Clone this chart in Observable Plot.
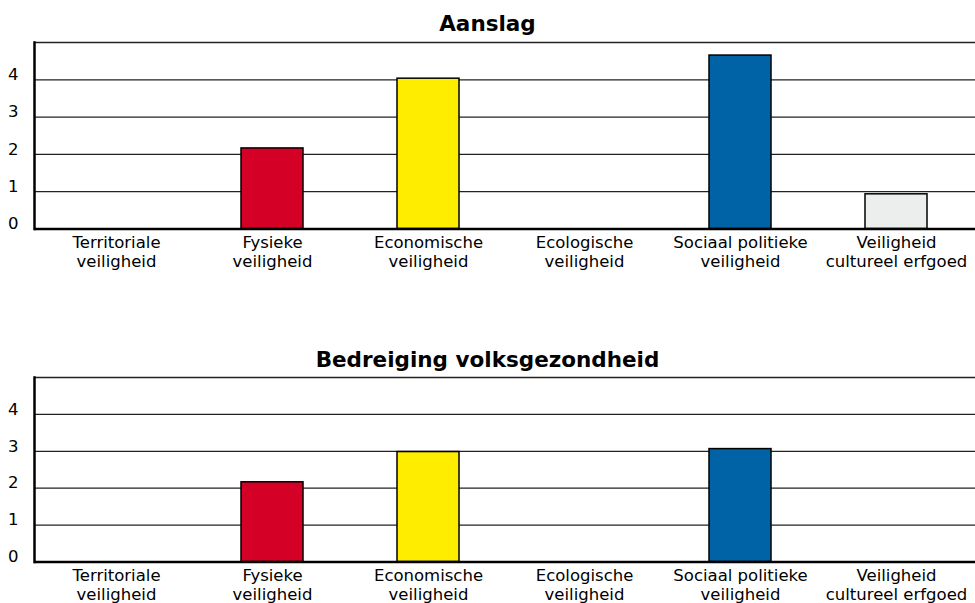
<!DOCTYPE html>
<html>
<head>
<meta charset="utf-8">
<script src="https://cdn.jsdelivr.net/npm/d3@7"></script>
<script src="https://cdn.jsdelivr.net/npm/@observablehq/plot@0.6"></script>
<style>
  html, body { margin: 0; padding: 0; background: #fff; }
  body { width: 975px; height: 603px; position: relative; overflow: hidden; font-family: "DejaVu Sans", Verdana, sans-serif; }
  .title { position: absolute; left: 0; width: 975px; text-align: center; font-weight: bold; font-size: 21.5px; line-height: 24px; color: #000; z-index: 2; }
  .panel { position: absolute; left: 0; z-index: 1; }
  .panel svg text { font-size: 16.5px; fill: #000; }
</style>
</head>
<body>
<div class="panel" id="p1" style="top:0px"></div>
<div class="panel" id="p2" style="top:335px"></div>
<div class="title" id="t1" style="top:12px"></div>
<div class="title" id="t2" style="top:348px"></div>
<script>
const categories = [
  "Territoriale veiligheid",
  "Fysieke veiligheid",
  "Economische veiligheid",
  "Ecologische veiligheid",
  "Sociaal politieke veiligheid",
  "Veiligheid cultureel erfgoed"
];
const tickLabels = [
  "Territoriale\nveiligheid",
  "Fysieke\nveiligheid",
  "Economische\nveiligheid",
  "Ecologische\nveiligheid",
  "Sociaal politieke\nveiligheid",
  "Veiligheid\ncultureel erfgoed"
];
const barColors = ["#ffffff", "#d50025", "#ffed00", "#ffffff", "#0063a6", "#eceeed"];
const titles = ["Aanslag", "Bedreiging volksgezondheid"];
const aanslag = [0, 2.16, 4.03, 0, 4.65, 0.93];
const bedreiging = [0, 2.16, 2.98, 0, 3.06, 0];
const yTicks = [0, 1, 2, 3, 4];
const gridValues = [1, 2, 3, 4, 5];

function panel(values, height, marginBottom) {
  const data = categories.map((c, i) => ({cat: c, value: values[i]})).filter(d => d.value > 0);
  return Plot.plot({
    width: 975,
    height,
    marginTop: 42,
    marginBottom,
    marginLeft: 34,
    marginRight: 0,
    style: {fontFamily: "DejaVu Sans, Verdana, sans-serif", fontSize: "16.5px", color: "#000", background: "transparent"},
    x: {type: "band", domain: categories, range: [37, 976], paddingInner: 0.6, paddingOuter: 0.3, label: null},
    y: {domain: [0, 5], label: null},
    color: {domain: categories, range: barColors},
    marks: [
      Plot.ruleY(gridValues, {stroke: "#222", strokeWidth: 1.3}),
      Plot.barY(data, {x: "cat", y: "value", fill: "cat", stroke: "#000", strokeWidth: 1.5}),
      Plot.ruleY([0], {stroke: "#000", strokeWidth: 2.5}),
      Plot.frame({anchor: "left", stroke: "#000", strokeWidth: 2.5}),
      Plot.axisY(yTicks, {tickSize: 0, tickPadding: 16, dy: -5, fontSize: 16.5, label: null}),
      Plot.axisX({tickSize: 0, tickPadding: 5, fontSize: 16.5, lineHeight: 1.16, label: null,
        tickFormat: d => tickLabels[categories.indexOf(d)]})
    ]
  });
}

document.getElementById("t1").textContent = titles[0];
document.getElementById("t2").textContent = titles[1];
document.getElementById("p1").append(panel(aanslag, 300, 71.5));
document.getElementById("p2").append(panel(bedreiging, 268, 41.5));
</script>
</body>
</html>
